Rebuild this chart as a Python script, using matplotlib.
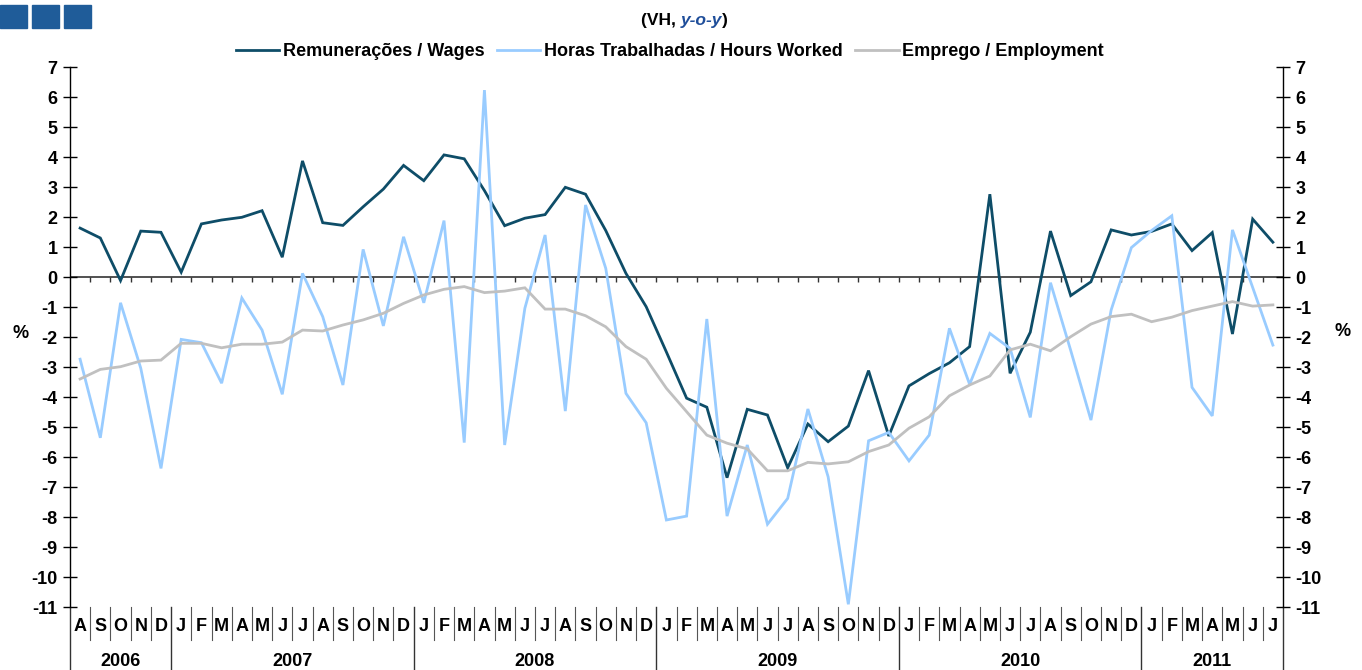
import matplotlib
matplotlib.use("Agg")
import matplotlib.pyplot as plt
import matplotlib.transforms as mtransforms
from matplotlib.patches import Rectangle

# ---- data ----
months = ["A", "S", "O", "N", "D",
          "J", "F", "M", "A", "M", "J", "J", "A", "S", "O", "N", "D",
          "J", "F", "M", "A", "M", "J", "J", "A", "S", "O", "N", "D",
          "J", "F", "M", "A", "M", "J", "J", "A", "S", "O", "N", "D",
          "J", "F", "M", "A", "M", "J", "J", "A", "S", "O", "N", "D",
          "J", "F", "M", "A", "M", "J", "J"]
years = ["2006", "2007", "2008", "2009", "2010", "2011"]
months_per_year = [5, 12, 12, 12, 12, 7]

wages = [1.63, 1.30, -0.12, 1.53, 1.49,
         0.16, 1.77, 1.90, 1.99, 2.21, 0.66, 3.87, 1.81, 1.72, 2.34, 2.93, 3.72,
         3.21, 4.07, 3.94, 2.88, 1.71, 1.96, 2.08, 2.99, 2.76, 1.55, 0.12, -0.99,
         -2.50, -4.04, -4.34, -6.69, -4.41, -4.60, -6.36, -4.90, -5.49, -4.97, -3.12, -5.30,
         -3.63, -3.22, -2.86, -2.32, 2.76, -3.21, -1.84, 1.53, -0.62, -0.16, 1.57, 1.40,
         1.52, 1.77, 0.88, 1.48, -1.90, 1.93, 1.16]

hours = [-2.74, -5.36, -0.86, -3.04, -6.38,
         -2.08, -2.19, -3.54, -0.70, -1.77, -3.91, 0.12, -1.32, -3.60, 0.92, -1.63, 1.34,
         -0.86, 1.88, -5.52, 6.23, -5.60, -1.04, 1.40, -4.47, 2.40, 0.29, -3.88, -4.86,
         -8.10, -7.97, -1.40, -7.97, -5.60, -8.24, -7.38, -4.40, -6.66, -10.91, -5.46, -5.18,
         -6.13, -5.27, -1.71, -3.58, -1.88, -2.38, -4.68, -0.19, -2.45, -4.77, -1.10, 0.98,
         1.55, 2.04, -3.68, -4.63, 1.57, -0.35, -2.27]

employment = [-3.40, -3.08, -2.99, -2.80, -2.77,
              -2.21, -2.21, -2.36, -2.24, -2.24, -2.17, -1.77, -1.80, -1.60, -1.43, -1.21, -0.88,
              -0.60, -0.41, -0.32, -0.52, -0.47, -0.36, -1.07, -1.07, -1.29, -1.66, -2.32, -2.74,
              -3.71, -4.49, -5.27, -5.54, -5.73, -6.46, -6.46, -6.18, -6.23, -6.16, -5.82, -5.60,
              -5.04, -4.66, -3.96, -3.60, -3.30, -2.43, -2.24, -2.46, -1.99, -1.57, -1.32, -1.24,
              -1.49, -1.34, -1.12, -0.97, -0.82, -0.97, -0.93]

series_labels = ["Remunerações / Wages", "Horas Trabalhadas / Hours Worked", "Emprego / Employment"]
colors = ["#0E4D68", "#99CCFF", "#C0C0C0"]

# ---- figure ----
plt.rcParams['font.family'] = ['Liberation Sans', 'DejaVu Sans']
fig = plt.figure(figsize=(13.62, 6.70), dpi=100)
ax = fig.add_axes([70 / 1362, 63 / 670, 1213 / 1362, 540 / 670])

x = list(range(len(months)))
for vals, lab, col in zip([wages, hours, employment], series_labels, colors):
    ax.plot(x, vals, color=col, lw=2.0, label=lab, solid_joinstyle='miter')

n = len(months)
ax.set_xlim(-0.5, n - 0.5)
ax.set_ylim(-11, 7)
ax.set_yticks(range(-11, 8))
ax.set_yticklabels([str(v) for v in range(-11, 8)])
ax.tick_params(axis='y', which='both', direction='inout', length=10, width=1.0,
               left=True, right=True, labelleft=True, labelright=True,
               labelsize=13, pad=4, colors='black')
for lbl in ax.get_yticklabels():
    lbl.set_fontweight('bold')
ax.set_xticks([])
for s in ['top', 'bottom']:
    ax.spines[s].set_visible(False)
for s in ['left', 'right']:
    ax.spines[s].set_linewidth(1.0)

# zero line with month tick marks
ax.axhline(0, color='#333333', lw=1.2, zorder=1)
bounds = [i - 0.5 for i in range(1, n)]
ax.vlines(bounds, -0.17, 0, color='#333333', lw=1.0, zorder=1)

# month labels and separators below axis
trans = mtransforms.blended_transform_factory(ax.transData, ax.transAxes)
for i, m in enumerate(months):
    ax.text(i, -0.037, m, transform=trans, ha='center', va='center',
            fontsize=13, fontweight='bold', clip_on=False)
year_edges = [-0.5]
for c in months_per_year:
    year_edges.append(year_edges[-1] + c)
for b in bounds:
    if b not in year_edges:
        ax.plot([b, b], [0, -0.061], transform=trans, color='#555555', lw=0.8, clip_on=False)
for b in year_edges:
    ax.plot([b, b], [0, -0.125], transform=trans, color='#333333', lw=1.0, clip_on=False)
for k, yr in enumerate(years):
    mid = (year_edges[k] + year_edges[k + 1]) / 2
    ax.text(mid, -0.1, yr, transform=trans, ha='center', va='center',
            fontsize=13, fontweight='bold', clip_on=False)

# % labels
ax.text(-0.041, 0.507, "%", transform=ax.transAxes, ha='center', va='center',
        fontsize=13, fontweight='bold')
ax.text(1.049, 0.51, "%", transform=ax.transAxes, ha='center', va='center',
        fontsize=13, fontweight='bold')

# legend
leg = fig.legend(loc='center', bbox_to_anchor=(670 / 1362, 1 - 52 / 670), ncol=3,
                 frameon=False, handlelength=2.4, columnspacing=0.7, handletextpad=0.2,
                 prop={'family': ['Liberation Sans Narrow', 'Liberation Sans'],
                       'weight': 'bold', 'size': 13})

# header: blue squares and subtitle
for x0 in [0, 32, 64]:
    fig.patches.append(Rectangle((x0 / 1362, 1 - 28 / 670), 27 / 1362, 23 / 670,
                                 transform=fig.transFigure, color='#1F5C99'))
t1 = fig.text(641 / 1362, 1 - 20 / 670, "(VH, ", ha='left', va='center',
              fontsize=12.5, fontweight='bold')
fig.canvas.draw()
bb = t1.get_window_extent()
t2 = fig.text(bb.x1 / 1362, 1 - 20 / 670, "y-o-y", ha='left', va='center',
              fontsize=12.5, fontweight='bold', style='italic', color='#1F4E9A')
fig.canvas.draw()
bb2 = t2.get_window_extent()
fig.text(bb2.x1 / 1362, 1 - 20 / 670, ")", ha='left', va='center',
         fontsize=12.5, fontweight='bold')

fig.savefig("out.png", dpi=100)
